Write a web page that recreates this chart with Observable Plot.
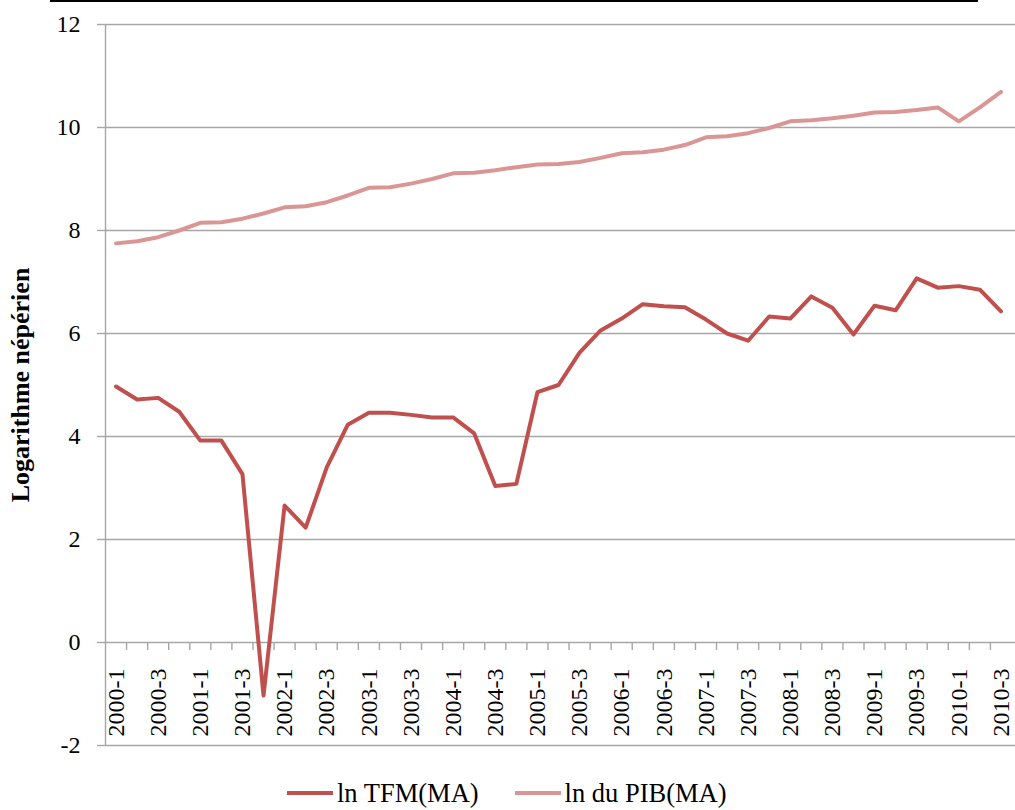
<!DOCTYPE html>
<html>
<head>
<meta charset="utf-8">
<script src="https://cdn.jsdelivr.net/npm/d3@7"></script>
<script src="https://cdn.jsdelivr.net/npm/@observablehq/plot@0.6"></script>
<style>
  html, body { margin: 0; padding: 0; background: #fff; }
  body { width: 1015px; height: 810px; position: relative; font-family: "Liberation Serif", "Times New Roman", serif; overflow: hidden; }
  #topline { position: absolute; left: 50px; top: 0; width: 928px; height: 2px; background: #000; }
  #legend { position: absolute; top: 778px; left: 287px; display: flex; align-items: center; font-size: 26.5px; line-height: 30px; color: #000; }
  .sw { width: 46px; height: 4px; margin-right: 4px; }
  .item { display: flex; align-items: center; margin-right: 36px; }
</style>
</head>
<body>
<div id="topline"></div>
<div id="chart"></div>
<div id="legend"></div>
<script>
const quarters = [
  "2000-1","2000-2","2000-3","2000-4",
  "2001-1","2001-2","2001-3","2001-4",
  "2002-1","2002-2","2002-3","2002-4",
  "2003-1","2003-2","2003-3","2003-4",
  "2004-1","2004-2","2004-3","2004-4",
  "2005-1","2005-2","2005-3","2005-4",
  "2006-1","2006-2","2006-3","2006-4",
  "2007-1","2007-2","2007-3","2007-4",
  "2008-1","2008-2","2008-3","2008-4",
  "2009-1","2009-2","2009-3","2009-4",
  "2010-1","2010-2","2010-3"
];
const lnTFM = [
  4.97, 4.72, 4.75, 4.48,
  3.92, 3.92, 3.27, -1.03,
  2.66, 2.23, 3.40, 4.23,
  4.46, 4.46, 4.42, 4.37,
  4.37, 4.06, 3.04, 3.08,
  4.86, 5.00, 5.63, 6.06,
  6.29, 6.57, 6.53, 6.51,
  6.27, 6.00, 5.86, 6.33,
  6.29, 6.72, 6.50, 5.98,
  6.54, 6.45, 7.07, 6.89,
  6.92, 6.85, 6.43
];
const lnPIB = [
  7.75, 7.79, 7.87, 8.00,
  8.15, 8.16, 8.23, 8.33,
  8.45, 8.47, 8.55, 8.68,
  8.83, 8.84, 8.91, 9.00,
  9.11, 9.12, 9.17, 9.23,
  9.28, 9.29, 9.33, 9.41,
  9.50, 9.52, 9.57, 9.66,
  9.81, 9.83, 9.89, 9.99,
  10.12, 10.14, 10.18, 10.23,
  10.29, 10.30, 10.34, 10.39,
  10.12, 10.39, 10.69
];
const seriesNames = ["ln TFM(MA)", "ln du PIB(MA)"];
const seriesColors = ["#c0504d", "#d99694"];
const yTicks = [-2, 0, 2, 4, 6, 8, 10, 12];
const tickLabelQuarters = quarters.filter((q, i) => i % 2 === 0);
const yTitle = "Logarithme népérien";

const rowsTFM = quarters.map((q, i) => ({i, q, v: lnTFM[i]}));
const rowsPIB = quarters.map((q, i) => ({i, q, v: lnPIB[i]}));
const labelRows = quarters.map((q, i) => ({i, q})).filter(d => tickLabelQuarters.includes(d.q));
const boundaries = quarters.slice(1).map((q, i) => i + 0.5);
const gridColor = "#a6a6a6";

const chart = Plot.plot({
  width: 1015,
  height: 770,
  marginTop: 24,
  marginBottom: 25,
  marginLeft: 105,
  marginRight: 4,
  style: {fontFamily: "Liberation Serif, Times New Roman, serif", fontSize: "24px", background: "white", color: "black"},
  x: {type: "linear", domain: [-0.5, quarters.length - 0.5], axis: null},
  y: {domain: [-2, 12], axis: null},
  marks: [
    Plot.ruleY(yTicks, {x1: -0.5, x2: quarters.length - 0.5, insetRight: -4, stroke: gridColor, strokeWidth: 1.4}),
    Plot.ruleX([-0.5], {y1: -2, y2: 12, stroke: gridColor, strokeWidth: 1.4}),
    Plot.ruleY(yTicks, {x1: -0.5, x2: -0.5, insetLeft: -8, stroke: gridColor, strokeWidth: 1.4}),
    Plot.ruleX(boundaries, {x: d => d, y1: 0, y2: 0, insetBottom: -8, stroke: gridColor, strokeWidth: 1.4}),
    Plot.text(yTicks, {x: -0.5, y: d => d, text: d => String(d), textAnchor: "end", dx: -25, fontSize: 24, fill: "black"}),
    Plot.text(labelRows, {x: "i", y: 0, text: "q", rotate: -90, textAnchor: "end", dy: 26, fontSize: 24, fill: "black"}),
    Plot.text([yTitle], {frameAnchor: "left", text: d => d, rotate: -90, textAnchor: "middle", dx: -85, fontSize: 26, fontWeight: "bold", fill: "black"}),
    Plot.line(rowsPIB, {x: "i", y: "v", stroke: seriesColors[1], strokeWidth: 4, strokeLinejoin: "round"}),
    Plot.line(rowsTFM, {x: "i", y: "v", stroke: seriesColors[0], strokeWidth: 4, strokeLinejoin: "round"})
  ]
});
document.getElementById("chart").appendChild(chart);

const legend = document.getElementById("legend");
seriesNames.forEach((name, k) => {
  const item = document.createElement("div");
  item.className = "item";
  const sw = document.createElement("div");
  sw.className = "sw";
  sw.style.background = seriesColors[k];
  const label = document.createElement("span");
  label.textContent = name;
  item.appendChild(sw);
  item.appendChild(label);
  legend.appendChild(item);
});
</script>
</body>
</html>
